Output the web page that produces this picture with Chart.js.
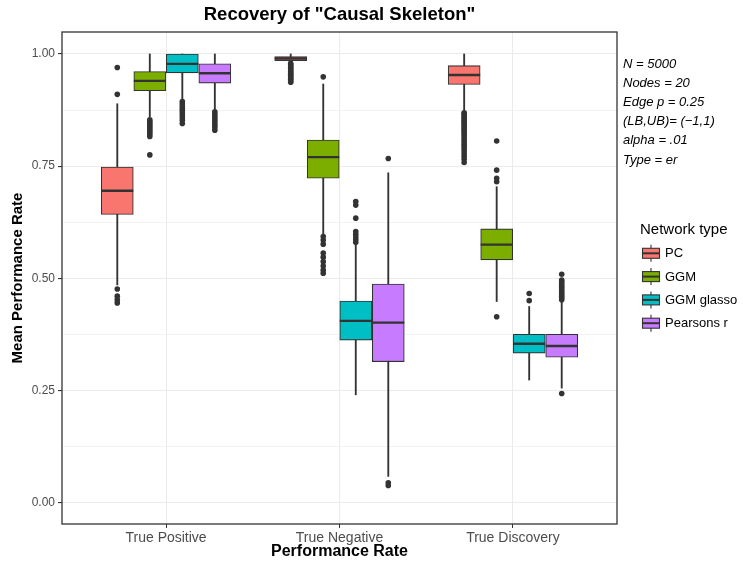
<!DOCTYPE html>
<html>
<head>
<meta charset="utf-8">
<script src="https://cdn.jsdelivr.net/npm/chart.js@4.4.1/dist/chart.umd.min.js"></script>
<style>
  html, body { margin: 0; padding: 0; background: #fff; }
</style>
</head>
<body>
<canvas id="chart" width="743" height="562"></canvas>
<script>
// categories on the x axis and the four network types
const categories = ['True Positive', 'True Negative', 'True Discovery'];
const networkTypes = ['PC', 'GGM', 'GGM glasso', 'Pearsons r'];
const yTickValues = [0, 0.125, 0.25, 0.375, 0.5, 0.625, 0.75, 0.875, 1];
const yLabelled = [0, 0.25, 0.5, 0.75, 1];

// box summaries, one value per category (TP, TN, TD)
const pcLow    = [0.485, 0.982, 0.874];
const pcQ1     = [0.642, 0.985, 0.932];
const pcMedian = [0.695, 0.990, 0.953];
const pcQ3     = [0.748, 0.994, 0.974];
const pcHigh   = [0.889, 1.000, 1.000];
const pcOutliers = [
  [0.970, 0.910, 0.476, 0.460, 0.452, 0.445],
  [0.979, 0.976, 0.973, 0.970, 0.967, 0.964, 0.961, 0.958, 0.955, 0.952, 0.949, 0.946, 0.943, 0.940, 0.937],
  [0.869, 0.866, 0.862, 0.858, 0.855, 0.851, 0.848, 0.844, 0.840, 0.836, 0.832, 0.828, 0.824, 0.820, 0.815,
   0.810, 0.805, 0.800, 0.795, 0.790, 0.784, 0.778, 0.772, 0.765, 0.758]
];

const ggmLow    = [0.860, 0.596, 0.448];
const ggmQ1     = [0.918, 0.723, 0.541];
const ggmMedian = [0.940, 0.770, 0.575];
const ggmQ3     = [0.961, 0.808, 0.610];
const ggmHigh   = [1.000, 0.933, 0.704];
const ggmOutliers = [
  [0.853, 0.849, 0.845, 0.841, 0.837, 0.833, 0.829, 0.825, 0.821, 0.816, 0.775],
  [0.949, 0.593, 0.585, 0.576, 0.556, 0.547, 0.537, 0.527, 0.518, 0.511],
  [0.806, 0.741, 0.723, 0.715, 0.414]
];

const glassoLow    = [0.896, 0.240, 0.273];
const glassoQ1     = [0.958, 0.362, 0.333];
const glassoMedian = [0.978, 0.405, 0.354];
const glassoQ3     = [1.000, 0.449, 0.375];
const glassoHigh   = [1.000, 0.574, 0.437];
const glassoOutliers = [
  [0.894, 0.889, 0.884, 0.879, 0.874, 0.869, 0.864, 0.858, 0.852, 0.845],
  [0.671, 0.663, 0.634, 0.604, 0.598, 0.592, 0.586, 0.580],
  [0.450, 0.466]
];

const pearsonLow    = [0.874, 0.058, 0.255];
const pearsonQ1     = [0.935, 0.314, 0.324];
const pearsonMedian = [0.957, 0.401, 0.349];
const pearsonQ3     = [0.978, 0.487, 0.375];
const pearsonHigh   = [1.000, 0.735, 0.448];
const pearsonOutliers = [
  [0.871, 0.866, 0.861, 0.856, 0.851, 0.846, 0.841, 0.836, 0.830],
  [0.767, 0.044, 0.038],
  [0.509, 0.496, 0.492, 0.488, 0.484, 0.480, 0.476, 0.472, 0.468, 0.464, 0.460, 0.456, 0.452, 0.243]
];

const notes = ['N = 5000', 'Nodes = 20', 'Edge p = 0.25', '(LB,UB)= (\u22121,1)', 'alpha = .01', 'Type = er'];

const boxStats = [
  { low: pcLow, q1: pcQ1, med: pcMedian, q3: pcQ3, high: pcHigh, out: pcOutliers },
  { low: ggmLow, q1: ggmQ1, med: ggmMedian, q3: ggmQ3, high: ggmHigh, out: ggmOutliers },
  { low: glassoLow, q1: glassoQ1, med: glassoMedian, q3: glassoQ3, high: glassoHigh, out: glassoOutliers },
  { low: pearsonLow, q1: pearsonQ1, med: pearsonMedian, q3: pearsonQ3, high: pearsonHigh, out: pearsonOutliers }
];

const fills = ['#F8766D', '#7CAE00', '#00BFC4', '#C77CFF'];
const ink = '#333333';
const dodge = [-0.28125, -0.09375, 0.09375, 0.28125];   // ggplot dodge, 0.75 width split in 4
const boxPx = 32;
const font = "'Liberation Sans', Arial, Helvetica, sans-serif";

const datasets = [];
boxStats.forEach((s, i) => {
    datasets.push({
        type: 'bar',
        label: networkTypes[i],
        data: categories.map((c, j) => ({ x: j + dodge[i], y: [s.q1[j], s.q3[j]] })),
        backgroundColor: fills[i],
        borderColor: ink,
        borderWidth: 1.1,
        borderSkipped: false,
        barThickness: boxPx,
        grouped: false,
        order: 2
    });
});
// whiskers: thin floating bars behind the boxes
datasets.push({
    type: 'bar',
    label: 'whiskers',
    data: boxStats.flatMap((s, i) => categories.map((c, j) => ({ x: j + dodge[i], y: [s.low[j], s.high[j]] }))),
    backgroundColor: ink,
    borderWidth: 0,
    barThickness: 1.2,
    grouped: false,
    order: 3
});
// outlier points
datasets.push({
    type: 'scatter',
    label: 'outliers',
    data: boxStats.flatMap((s, i) => s.out.flatMap((vals, j) => vals.map(v => ({ x: j + dodge[i], y: v })))),
    pointRadius: 2.8,
    pointBackgroundColor: ink,
    pointBorderWidth: 0,
    order: 1
});

const decorations = {
    id: 'decorations',
    afterDatasetsDraw(chart) {
        const { ctx, chartArea: a, scales: { x, y } } = chart;
        ctx.save();
        // median lines
        ctx.strokeStyle = ink;
        ctx.lineWidth = 2.4;
        boxStats.forEach((s, i) => {
            s.med.forEach((m, j) => {
                const cx = x.getPixelForValue(j + dodge[i]);
                const cy = y.getPixelForValue(m);
                ctx.beginPath();
                ctx.moveTo(cx - boxPx / 2, cy);
                ctx.lineTo(cx + boxPx / 2, cy);
                ctx.stroke();
            });
        });
        // panel border
        ctx.lineWidth = 1.3;
        ctx.strokeRect(a.left, a.top, a.right - a.left, a.bottom - a.top);
        ctx.restore();
    },
    afterDraw(chart) {
        const { ctx, chartArea: a } = chart;
        ctx.save();
        ctx.fillStyle = '#000';
        ctx.textBaseline = 'middle';
        // title
        ctx.textAlign = 'center';
        ctx.font = 'bold 18.5px ' + font;
        ctx.fillText('Recovery of "Causal Skeleton"', (a.left + a.right) / 2, 15);
        // parameter notes
        ctx.textAlign = 'left';
        ctx.font = 'italic 13px ' + font;
        notes.forEach((t, k) => ctx.fillText(t, 623, 64 + k * 19.2));
        // legend
        ctx.font = '15px ' + font;
        ctx.fillText('Network type', 640, 230);
        ctx.font = '13px ' + font;
        networkTypes.forEach((name, i) => {
            const cy = 253.3 + i * 23.3;
            ctx.strokeStyle = ink;
            ctx.lineWidth = 1.1;
            ctx.beginPath();
            ctx.moveTo(651, cy - 8.5); ctx.lineTo(651, cy + 8.5);
            ctx.stroke();
            ctx.fillStyle = fills[i];
            ctx.fillRect(642.5, cy - 5, 17, 10);
            ctx.strokeRect(642.5, cy - 5, 17, 10);
            ctx.lineWidth = 2;
            ctx.beginPath();
            ctx.moveTo(642.5, cy); ctx.lineTo(659.5, cy);
            ctx.stroke();
            ctx.fillStyle = '#000';
            ctx.fillText(name, 665, cy + 0.5);
        });
        ctx.restore();
    }
};

new Chart(document.getElementById('chart'), {
    data: { datasets },
    options: {
        responsive: false,
        animation: false,
        devicePixelRatio: 1,
        layout: { padding: { top: 32, right: 126, left: 0, bottom: 0 } },
        plugins: { legend: { display: false }, tooltip: { enabled: false }, title: { display: false } },
        scales: {
            x: {
                type: 'linear',
                min: -0.6,
                max: 2.6,
                offset: false,
                afterBuildTicks: s => { s.ticks = categories.map((c, j) => ({ value: j })); },
                afterFit: s => { s.height = 38; },
                ticks: {
                    callback: v => categories[v],
                    font: { family: font, size: 14 },
                    color: '#4D4D4D',
                    padding: 2,
                    maxRotation: 0
                },
                grid: { offset: false, color: '#EBEBEB', lineWidth: 1, tickColor: ink, tickLength: 4 },
                border: { display: false },
                title: {
                    display: true,
                    text: 'Performance Rate',
                    font: { family: font, size: 16, weight: 'bold' },
                    color: '#000',
                    padding: { top: 0, bottom: 1 }
                }
            },
            y: {
                type: 'linear',
                min: -0.048,
                max: 1.049,
                afterBuildTicks: s => { s.ticks = yTickValues.map(v => ({ value: v })); },
                afterFit: s => { s.width = 62; },
                ticks: {
                    callback: v => yLabelled.includes(v) ? v.toFixed(2) : '',
                    font: { family: font, size: 12 },
                    color: '#4D4D4D',
                    padding: 3
                },
                grid: {
                    color: '#EBEBEB',
                    lineWidth: c => (yLabelled.includes(c.tick.value) ? 1.1 : 0.6),
                    tickColor: c => (yLabelled.includes(c.tick.value) ? ink : 'rgba(0,0,0,0)'),
                    tickLength: 4
                },
                border: { display: false },
                title: {
                    display: true,
                    text: 'Mean Performance Rate',
                    font: { family: font, size: 15, weight: 'bold' },
                    color: '#000',
                    padding: { top: 9, bottom: 0 }
                }
            }
        }
    },
    plugins: [decorations]
});
</script>
</body>
</html>
